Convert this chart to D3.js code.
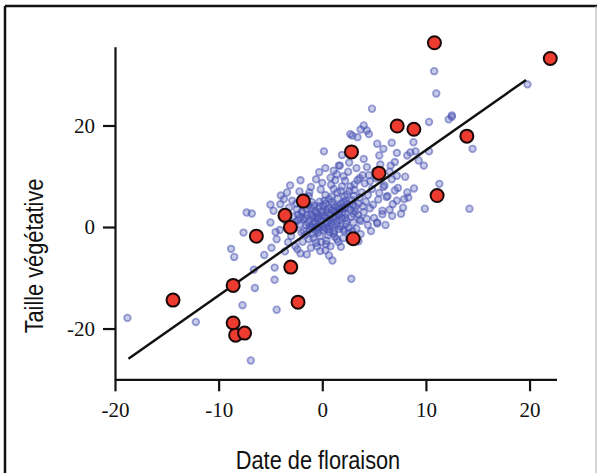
<!DOCTYPE html>
<html>
<head>
<meta charset="utf-8">
<script src="https://cdn.jsdelivr.net/npm/d3@7"></script>
<style>
  body { margin: 0; background: #fff; }
  svg { display: block; }
  .tick text { font-family: "Liberation Serif", "DejaVu Serif", serif; font-size: 21px; fill: #111; }
  .title { font-family: "Liberation Sans", Arial, sans-serif; font-size: 25px; fill: #111; }
</style>
</head>
<body>
<div id="chart"></div>
<script>
// toutes les plantes (nuage bleu)
var bluePts = [
  [-18.8,-17.9],[-12.2,-18.7],[-6.9,-26.3],[-7.7,-15.4],[-4.4,-16.3],[-6.5,-12.0],[-8.8,-4.3],[-8.5,-5.9],
  [-6.6,-8.4],[-4.6,-8.0],[-4.6,-10.4],[-2.1,-5.2],[-1.5,-5.4],[-7.3,2.85],[-6.8,2.65],[-7.6,-1.1],
  [-4.05,4.5],[-4.7,3.2],[-5.0,0.9],[-4.4,-2.4],[-4.9,-4.1],[-3.7,5.5],[-2.45,3.5],[-1.3,6.1],
  [-0.8,4.2],[-1.8,1.5],[-2.0,-1.1],[-2.6,-3.8],[-3.6,-4.8],[-1.2,-0.5],[-0.7,0.9],[-0.5,-3.8],
  [10.8,30.7],[11.0,26.3],[19.8,28.1],[4.8,23.3],[12.5,22.0],[12.2,21.2],[10.3,20.7],[4.0,20.0],
  [4.3,19.0],[3.7,19.2],[2.9,18.0],[3.4,17.7],[5.3,16.4],[6.7,16.6],[7.2,14.6],[9.0,14.9],
  [10.3,14.9],[14.5,15.4],[9.8,12.1],[9.3,13.1],[0.16,14.9],[1.9,14.2],[5.5,14.1],[4.0,13.4],
  [-0.3,10.8],[1.6,12.1],[2.6,12.7],[6.6,12.1],[7.2,10.1],[6.7,9.4],[8.85,7.6],[11.3,8.5],
  [9.9,3.6],[14.2,3.6],[6.75,2.2],[7.8,3.8],[5.3,0.7],[12.5,21.7],[8.5,14.7],[2.7,18.3],
  [4.5,18.3],[5.9,15.4],[8.2,14.1],[8.8,16.7],[1.1,11.1],[1.7,12.1],
  [5.3,0.9],[5.8,2.5],[3.7,1.2],[2.05,-0.45],[2.9,-0.8],[1.4,-2.4],[0.8,-3.8],[-0.2,-4.75],
  [2.8,-10.2],[0.98,-6.6],[0.65,-5.6],[0.3,-4.6],
  [7.0,7.2],[7.9,5.5],[8.2,6.8],[6.2,5.9],[5.9,7.9],[-4.5,-1.0],[-5.6,-5.5],
  [-4.0,6.2],[-5.0,4.4],[-3.1,8.2],[-2.1,9.2],
  [0.3,11.6],[0.8,9.7],[1.4,10.4],[2.2,9.1],[2.5,10.9],[3.3,11.6],[3.9,10.2],[4.3,11.8],
  [0.0,8.7],[-0.6,9.4],[-1.1,7.9],[3.1,8.4],[3.6,9.6],[1.9,8.0],[4.6,9.0],[5.1,11.0],
  [-3.2,3.8],[-2.8,2.1],[-2.5,4.6],[-2.2,0.5],[-2.0,2.9],[-1.8,-0.8],[-1.6,1.7],[-1.5,3.6],
  [-1.3,-2.4],[-1.2,0.2],[-1.1,2.5],[-1.0,4.9],[-0.9,-1.3],[-0.8,1.1],[-0.7,3.2],[-0.6,-3.1],
  [-0.5,0.0],[-0.4,2.0],[-0.3,4.1],[-0.2,-1.8],[-0.1,1.3],[0.0,3.0],[0.1,-0.6],[0.2,5.2],
  [0.3,1.9],[0.4,-2.7],[0.5,0.8],[0.6,3.7],[0.7,-1.0],[0.8,2.4],[0.9,6.0],[1.0,0.3],
  [1.1,4.4],[1.2,-1.9],[1.3,2.8],[1.4,1.2],[1.5,5.6],[1.6,-0.4],[1.7,3.5],[1.8,7.1],
  [1.9,1.8],[2.0,-2.2],[2.1,4.9],[2.2,2.6],[2.3,0.6],[2.4,6.4],[2.5,3.9],[2.6,-1.2],
  [2.7,8.0],[2.8,2.0],[2.9,5.3],[3.0,0.9],[3.1,7.3],[3.2,3.1],[3.3,-0.3],[3.4,9.2],
  [3.5,4.6],[3.6,1.5],[3.8,6.8],[4.0,2.9],[4.1,8.6],[4.2,5.0],[4.4,0.4],[4.5,10.2],
  [4.6,3.7],[4.8,7.5],[5.0,1.8],[5.2,9.6],[5.4,5.4],[5.6,12.3],[5.8,3.2],[6.0,8.2],
  [6.3,6.1],[6.5,10.9],[6.8,4.5],[7.0,12.8],[7.3,7.7],[7.6,2.6],[8.0,9.9],[8.3,5.8],
  [-2.7,-0.3],[-2.3,1.4],[-1.9,3.1],[-1.7,5.8],[-1.4,0.9],[-0.95,2.2],[-0.65,-0.7],[-0.35,3.6],
  [-0.15,0.6],[0.15,2.3],[0.35,4.6],[0.55,-1.6],[0.75,1.5],[0.95,3.3],[1.15,-0.9],[1.35,2.0],
  [1.55,4.1],[1.75,0.1],[1.95,2.9],[2.15,6.0],[2.35,1.2],[2.55,-0.2],[2.75,3.4],[2.95,4.4],
  [-0.45,1.6],[0.05,0.1],[0.45,2.9],[0.85,0.7],[1.25,3.9],[1.65,1.4],[2.05,3.6],[-1.05,-0.1],
  [-0.55,2.7],[0.25,-0.2],[1.05,1.9],[1.85,4.6],[-2.35,2.4],[-1.55,0.4],[-0.25,5.0],[0.65,5.5],
  [1.45,6.8],[2.25,5.2],[3.05,6.1],[3.45,2.4],[3.9,4.1],[-3.5,1.2],[-3.0,-1.8],[-2.9,5.2],
  [-1.9,-2.9],[-0.85,-2.2],[0.35,-3.4],[1.55,-2.9],[2.65,-2.6],[3.7,-1.4],[4.3,1.6],[4.9,4.4],
  [5.5,6.7],[-1.25,6.8],[-0.15,7.4],[0.85,8.3],[1.25,9.2],[2.05,10.0],[-2.2,7.0],[-3.4,6.8],
  [-3.9,2.0],[-4.1,-0.6],[-3.3,-3.0],[-2.4,-4.4],[-1.1,-4.1],[-0.1,-3.0],[1.8,-3.9],[3.5,-2.8],
  [4.7,-0.8],[6.1,0.4],[6.5,3.4],[7.2,5.2],
  [-1.45,2.3],[-0.75,1.9],[-0.05,2.2],[0.6,1.2],[1.2,3.1],[1.9,3.8],[-1.1,3.7],[0.4,3.4],
  [-0.9,0.5],[0.1,4.2],[0.9,4.9],[1.6,2.4],[2.4,4.5],[-2.1,1.9],[-0.35,-0.3],[0.7,0.1],
  [1.4,0.5],[2.2,1.8],[3.0,2.6],[-1.6,-1.5],[-0.4,-1.1],[0.5,-0.4],[1.1,-1.3],[2.1,-0.8],
  [-2.6,0.9],[-1.3,4.3],[0.3,6.3],[1.1,7.5],[2.6,7.1],[3.6,5.8],[4.4,6.3],[3.2,4.0]
];

// plantes choisies (rouge)
var redPts = [
  [10.82,36.3],[22.0,33.2],[7.23,19.9],[8.84,19.25],[13.95,17.9],[2.82,14.8],[5.47,10.6],[11.08,6.2],
  [-1.83,5.1],[2.99,-2.3],[-3.6,2.3],[-3.08,-0.06],[-6.36,-1.8],[-3.04,-7.9],[-2.34,-14.8],
  [-8.6,-11.5],[-14.4,-14.4],[-8.6,-18.9],[-8.36,-21.3],[-7.5,-20.9]
];

// droite de regression
var fitLine = [[-18.7,-25.95],[19.66,28.97]];

var xTicks = [-20,-10,0,10,20];
var yTicks = [-20,0,20];

var width = 597, height = 473;

var svg = d3.select("#chart").append("svg")
  .attr("width", width)
  .attr("height", height);

// cadre
svg.append("line").attr("x1",5).attr("y1",6).attr("x2",5).attr("y2",height)
  .attr("stroke","#111").attr("stroke-width",2.5);
svg.append("line").attr("x1",5).attr("y1",6).attr("x2",597).attr("y2",6)
  .attr("stroke","#111").attr("stroke-width",2.5);
svg.append("line").attr("x1",596).attr("y1",6).attr("x2",596).attr("y2",height)
  .attr("stroke","#aaa").attr("stroke-width",1);

var xScale = d3.scaleLinear().domain([-20, 22.6]).range([115, 556.5]);
var yScale = d3.scaleLinear().domain([-30, 35.5]).range([379.3, 46.8]);

var fmt = d => String(d);
var xAxis = d3.axisBottom(xScale).tickValues(xTicks).tickFormat(fmt).tickSize(12).tickSizeOuter(0).tickPadding(10);
var yAxis = d3.axisLeft(yScale).tickValues(yTicks).tickFormat(fmt).tickSize(12).tickSizeOuter(0).tickPadding(8);

var gx = svg.append("g")
  .attr("transform", `translate(0, ${yScale(-30)})`)
  .call(xAxis);
var gy = svg.append("g")
  .attr("transform", `translate(${xScale(-20)}, 0)`)
  .call(yAxis);

[gx, gy].forEach(function(g) {
  g.select(".domain").attr("stroke","#111").attr("stroke-width",2.2);
  g.selectAll(".tick line").attr("stroke","#111").attr("stroke-width",2.2);
  g.selectAll(".tick text").attr("fill","#111");
});
gx.selectAll(".tick text").attr("dy","0.75em");

// points bleus
svg.append("g").selectAll("circle")
  .data(bluePts)
  .enter().append("circle")
  .attr("cx", d => xScale(d[0]))
  .attr("cy", d => yScale(d[1]))
  .attr("r", 3.3)
  .attr("fill", "rgba(75,85,180,0.3)")
  .attr("stroke", "rgba(75,85,180,0.55)")
  .attr("stroke-width", 1.8);

svg.append("path")
  .datum(fitLine)
  .attr("d", d3.line().x(d => xScale(d[0])).y(d => yScale(d[1])))
  .attr("stroke", "#111")
  .attr("stroke-width", 2.5)
  .attr("fill", "none");

// points rouges
svg.append("g").selectAll("circle")
  .data(redPts)
  .enter().append("circle")
  .attr("cx", d => xScale(d[0]))
  .attr("cy", d => yScale(d[1]))
  .attr("r", 6.5)
  .attr("fill", "#ee3b30")
  .attr("stroke", "#1a0808")
  .attr("stroke-width", 2);

svg.append("text")
  .attr("class","title")
  .attr("text-anchor","middle")
  .attr("transform", "translate(318, 469) scale(0.87,1)")
  .text("Date de floraison");

svg.append("text")
  .attr("class","title")
  .attr("text-anchor","middle")
  .attr("transform", "translate(43, 256) rotate(-90) scale(0.87,1)")
  .text("Taille végétative");
</script>
</body>
</html>
